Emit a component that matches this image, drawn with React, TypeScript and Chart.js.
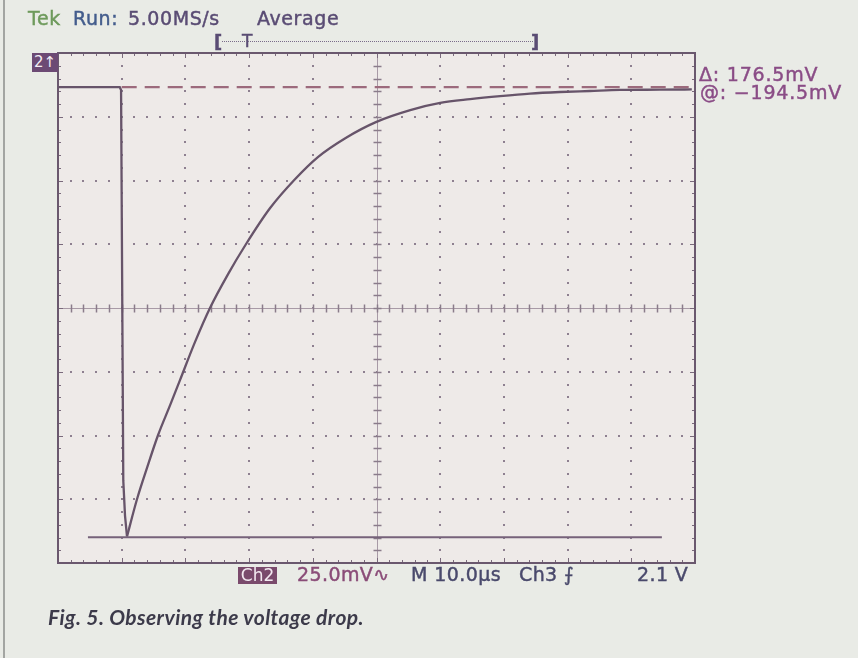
import React, { useEffect, useRef } from "react";
import { Chart, registerables } from "chart.js";

Chart.register(...registerables);

// ---- Data (time in µs, Ch2 voltage in mV relative to screen centre) ----
const TIME_US = [
  0, 9.7, 9.9, 10.25, 10.52, 10.83, 12.4, 14.0, 15.7, 17.6, 19.15, 21.5, 23.86,
  26.7, 29.5, 33.3, 37.2, 40.8, 45.1, 49.9, 55.3, 60, 64.7, 69.4, 74.1, 78.8, 83.5,
  88.2, 94.5, 99.5,
];
const CH2_MV = [
  86.6, 86.6, 85.5, -67.7, -81.4, -89.6, -75.0, -62.5, -49.9, -38.1, -28.3, -13.4, 0,
  13.3, 25, 39.2, 50.5, 59.2, 66.6, 72.9, 77.6, 80.4, 81.9, 83.1, 84.1, 84.7, 85.1,
  85.5, 85.6, 85.7,
];
const CURSOR_A_MV = 86.6; // dashed cursor
const CURSOR_A_SPAN_US = [10, 99.6];
const CURSOR_B_MV = -89.9; // solid cursor
const CURSOR_B_SPAN_US = [4.7, 94.8];

// ---- Graticule ----
const X_MIN = 0;
const X_MAX = 100;
const X_DIV = 10; // 10 µs/div
const Y_MIN = -100;
const Y_MAX = 100;
const Y_DIV = 25; // 25 mV/div
const MINOR_PER_DIV = 5;

// ---- Screen texts ----
const HEADER_TEK = "Tek";
const HEADER_RUN = "Run:";
const HEADER_RATE = "5.00MS/s";
const HEADER_MODE = "Average";
const DELTA_LABEL = "Δ: 176.5mV";
const AT_LABEL = "@: −194.5mV";
const CH_MARK = "2↑";
const FOOT_CH = "Ch2";
const FOOT_SCALE = "25.0mV∿";
const FOOT_TIME = "M 10.0µs";
const FOOT_TRIG = "Ch3 ⨍";
const FOOT_LEVEL = "2.1 V";
const CAPTION = "Fig. 5. Observing the voltage drop.";

const scopePlugin = {
  id: "scope",
  beforeDatasetsDraw(chart: any) {
    const { ctx, chartArea: a, scales } = chart;
    const x = scales.x;
    const y = scales.y;
    ctx.save();
    ctx.fillStyle = "#eeeae8";
    ctx.fillRect(a.left, a.top, a.right - a.left, a.bottom - a.top);

    const xMinor = X_DIV / MINOR_PER_DIV;
    const yMinor = Y_DIV / MINOR_PER_DIV;
    const xMid = (X_MIN + X_MAX) / 2;
    const yMid = (Y_MIN + Y_MAX) / 2;

    // dotted graticule
    ctx.fillStyle = "#8e8090";
    for (let gx = X_MIN + X_DIV; gx < X_MAX - 1e-6; gx += X_DIV) {
      if (Math.abs(gx - xMid) < 1e-6) continue;
      const px = Math.round(x.getPixelForValue(gx));
      for (let v = Y_MIN + yMinor; v < Y_MAX - 1e-6; v += yMinor) {
        const py = Math.round(y.getPixelForValue(v));
        ctx.fillRect(px - 1, py - 1, 2, 2);
      }
    }
    for (let gy = Y_MIN + Y_DIV; gy < Y_MAX - 1e-6; gy += Y_DIV) {
      if (Math.abs(gy - yMid) < 1e-6) continue;
      const py = Math.round(y.getPixelForValue(gy));
      for (let t = X_MIN + xMinor; t < X_MAX - 1e-6; t += xMinor) {
        const px = Math.round(x.getPixelForValue(t));
        ctx.fillRect(px - 1, py - 1, 2, 2);
      }
    }

    // centre cross
    const cx = Math.round(x.getPixelForValue(xMid)) + 0.5;
    const cy = Math.round(y.getPixelForValue(yMid)) + 0.5;
    ctx.strokeStyle = "#a89aa6";
    ctx.lineWidth = 1;
    ctx.beginPath();
    ctx.moveTo(a.left, cy);
    ctx.lineTo(a.right, cy);
    ctx.moveTo(cx, a.top);
    ctx.lineTo(cx, a.bottom);
    ctx.stroke();
    ctx.strokeStyle = "#8a7c8a";
    ctx.lineWidth = 1.5;
    ctx.beginPath();
    for (let t = X_MIN + xMinor; t < X_MAX - 1e-6; t += xMinor) {
      const px = Math.round(x.getPixelForValue(t)) + 0.5;
      ctx.moveTo(px, cy - 4);
      ctx.lineTo(px, cy + 4);
    }
    for (let v = Y_MIN + yMinor; v < Y_MAX - 1e-6; v += yMinor) {
      const py = Math.round(y.getPixelForValue(v)) + 0.5;
      ctx.moveTo(cx - 4, py);
      ctx.lineTo(cx + 4, py);
    }
    ctx.stroke();

    // edge ticks
    ctx.strokeStyle = "#7a6a7c";
    ctx.lineWidth = 1;
    ctx.beginPath();
    for (let t = X_MIN + xMinor; t < X_MAX - 1e-6; t += xMinor) {
      const px = Math.round(x.getPixelForValue(t)) + 0.5;
      const major = Math.abs(t / X_DIV - Math.round(t / X_DIV)) < 1e-6;
      const len = major ? 5 : 3;
      ctx.moveTo(px, a.top);
      ctx.lineTo(px, a.top + len);
      ctx.moveTo(px, a.bottom);
      ctx.lineTo(px, a.bottom - len);
    }
    for (let v = Y_MIN + yMinor; v < Y_MAX - 1e-6; v += yMinor) {
      const py = Math.round(y.getPixelForValue(v)) + 0.5;
      const major = Math.abs(v / Y_DIV - Math.round(v / Y_DIV)) < 1e-6;
      const len = major ? 5 : 3;
      ctx.moveTo(a.left, py);
      ctx.lineTo(a.left + len, py);
      ctx.moveTo(a.right, py);
      ctx.lineTo(a.right - len, py);
    }
    ctx.stroke();

    // frame
    ctx.strokeStyle = "#6a586e";
    ctx.lineWidth = 2;
    ctx.strokeRect(a.left, a.top, a.right - a.left, a.bottom - a.top);
    ctx.restore();
  },
};

const font = '"DejaVu Sans", sans-serif';

function T(props: { x: number; y: number; size?: number; color: string; text: string; ls?: number; style?: any }) {
  const { x, y, size = 19, color, text, ls = 0.6, style } = props;
  return (
    <div
      style={{
        position: "absolute",
        left: x,
        top: y,
        fontFamily: font,
        fontSize: size,
        lineHeight: 1,
        color,
        whiteSpace: "pre",
        letterSpacing: ls,
        WebkitTextStroke: `0.45px ${color}`,
        ...style,
      }}
    >
      {text}
    </div>
  );
}

export default function App() {
  const ref = useRef<HTMLCanvasElement | null>(null);

  useEffect(() => {
    if (!ref.current) return;
    const pts = TIME_US.map((t, i) => ({ x: t, y: CH2_MV[i] }));
    let minIdx = 0;
    CH2_MV.forEach((v, i) => {
      if (v < CH2_MV[minIdx]) minIdx = i;
    });
    const drop = pts.slice(0, minIdx + 1);
    const rise = pts.slice(minIdx);
    const cursorA = CURSOR_A_SPAN_US.map((t) => ({ x: t, y: CURSOR_A_MV }));
    const cursorB = CURSOR_B_SPAN_US.map((t) => ({ x: t, y: CURSOR_B_MV }));
    const traceStyle = { borderColor: "#67546a", borderWidth: 2.3, pointRadius: 0 };
    const chart = new Chart(ref.current, {
      type: "line",
      data: {
        datasets: [
          {
            label: "Cursor A",
            data: cursorA,
            borderColor: "#9c6a7c",
            borderWidth: 2.2,
            borderDash: [15, 8],
            pointRadius: 0,
            tension: 0,
          },
          {
            label: "Cursor B",
            data: cursorB,
            borderColor: "#76627a",
            borderWidth: 1.8,
            pointRadius: 0,
            tension: 0,
          },
          { label: "Ch2 drop", data: drop, tension: 0, ...traceStyle },
          { label: "Ch2 recovery", data: rise, cubicInterpolationMode: "monotone", ...traceStyle },
        ],
      },
      options: {
        responsive: false,
        animation: false,
        events: [],
        layout: { padding: { left: 58, right: 163, top: 53, bottom: 95 } },
        plugins: { legend: { display: false }, tooltip: { enabled: false }, title: { display: false } },
        scales: {
          x: { type: "linear", min: X_MIN, max: X_MAX, display: false },
          y: { type: "linear", min: Y_MIN, max: Y_MAX, display: false },
        },
      },
      plugins: [scopePlugin],
    });
    return () => chart.destroy();
  }, []);

  return (
    <div
      style={{
        position: "fixed",
        left: 0,
        top: 0,
        width: 858,
        height: 658,
        background: "#e9ebe6",
        overflow: "hidden",
      }}
    >
      <div style={{ position: "absolute", left: 3, top: 0, width: 2, height: 658, background: "#a3a5a2" }} />
      <canvas ref={ref} width={858} height={658} style={{ position: "absolute", left: 0, top: 0 }} />

      {/* header */}
      <T x={28} y={9} color="#6e9a5c" text={HEADER_TEK} />
      <T x={73} y={9} color="#435c8c" text={HEADER_RUN} />
      <T x={128} y={9} color="#5a4c74" text={HEADER_RATE} />
      <T x={257} y={9} color="#5a4c74" text={HEADER_MODE} />

      {/* trigger bracket */}
      <T x={214} y={33} size={18} color="#5a4c74" text="[" style={{ fontWeight: "bold" }} />
      <T x={242} y={33} size={17} color="#5a4c74" text="T" />
      <div style={{ position: "absolute", left: 222, top: 41, width: 311, borderTop: "1px dotted #7a6c8a" }} />
      <T x={531} y={33} size={18} color="#5a4c74" text="]" style={{ fontWeight: "bold" }} />

      {/* channel marker */}
      <div
        style={{
          position: "absolute",
          left: 32,
          top: 53,
          width: 26,
          height: 19,
          background: "#6c4a74",
          color: "#f4eef4",
          fontFamily: font,
          fontSize: 15,
          lineHeight: "19px",
          textAlign: "center",
        }}
      >
        {CH_MARK}
      </div>

      {/* cursor readout */}
      <T x={699} y={65} color="#8a4c86" text={DELTA_LABEL} ls={0.8} />
      <T x={700} y={83} color="#8a4c86" text={AT_LABEL} ls={0.8} />

      {/* footer */}
      <div
        style={{
          position: "absolute",
          left: 238,
          top: 567,
          width: 39,
          height: 17,
          background: "#7a4a6c",
          color: "#f2e8f0",
          fontFamily: font,
          fontSize: 17,
          lineHeight: "17px",
          textAlign: "center",
        }}
      >
        {FOOT_CH}
      </div>
      <T x={297} y={565} color="#8a4c78" text={FOOT_SCALE} ls={0.4} />
      <T x={411} y={565} color="#4a4a6c" text={FOOT_TIME} ls={0.4} />
      <T x={519} y={565} color="#4a4a6c" text={FOOT_TRIG} ls={0.4} />
      <T x={637} y={565} color="#4a4a6c" text={FOOT_LEVEL} ls={0.4} />

      {/* caption */}
      <div
        style={{
          position: "absolute",
          left: 48,
          top: 606,
          fontFamily: "Lato, sans-serif",
          fontStyle: "italic",
          fontWeight: "bold",
          fontSize: 21,
          letterSpacing: 0.4,
          lineHeight: 1,
          color: "#3c3a4a",
          whiteSpace: "pre",
        }}
      >
        {CAPTION}
      </div>
    </div>
  );
}
